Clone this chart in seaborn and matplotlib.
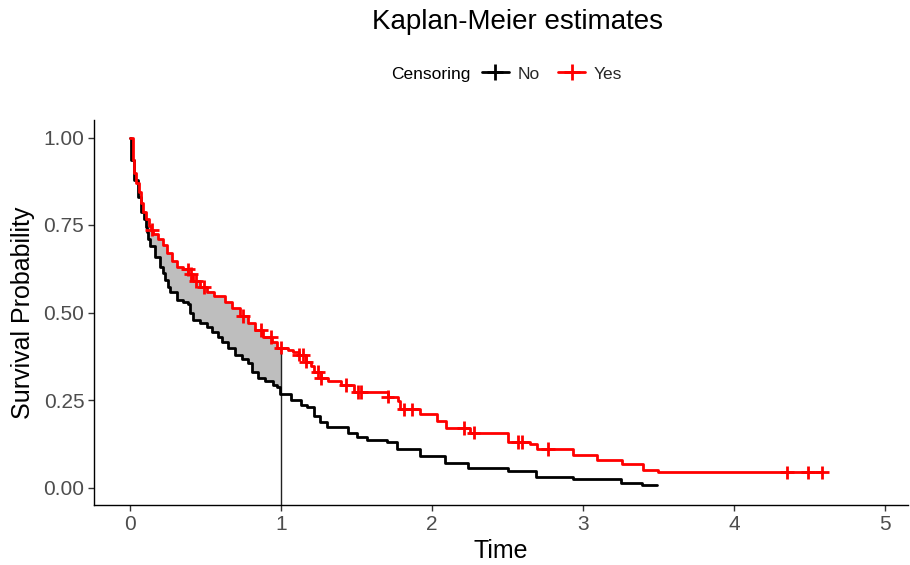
import numpy as np
import pandas as pd
import matplotlib
matplotlib.use("Agg")
import matplotlib.pyplot as plt
from matplotlib.lines import Line2D
import seaborn as sns

# ---- data ----
no_time = [0.0, 0.01, 0.026, 0.053, 0.073, 0.09, 0.106, 0.113, 0.119, 0.132, 0.166, 0.199,
           0.219, 0.232, 0.252, 0.265, 0.311, 0.351, 0.384, 0.397, 0.417, 0.464, 0.51,
           0.543, 0.583, 0.609, 0.649, 0.695, 0.742, 0.781, 0.808, 0.848, 0.894, 0.947,
           0.974, 0.993, 1.063, 1.129, 1.175, 1.215, 1.26, 1.307, 1.44, 1.505, 1.57, 1.70,
           1.77, 1.92, 2.086, 2.238, 2.50, 2.69, 2.93, 3.25, 3.39, 3.49]
no_surv = [1.0, 0.937, 0.88, 0.831, 0.786, 0.766, 0.745, 0.729, 0.709, 0.689, 0.66, 0.631,
           0.614, 0.594, 0.574, 0.56, 0.537, 0.531, 0.523, 0.50, 0.48, 0.471, 0.46,
           0.443, 0.431, 0.417, 0.40, 0.38, 0.366, 0.357, 0.331, 0.314, 0.303, 0.294,
           0.286, 0.266, 0.251, 0.237, 0.229, 0.203, 0.186, 0.174, 0.157, 0.143, 0.137, 0.131,
           0.109, 0.089, 0.071, 0.057, 0.046, 0.031, 0.023, 0.014, 0.006, 0.006]

yes_time = [0.0, 0.02, 0.026, 0.04, 0.06, 0.073, 0.086, 0.106, 0.126, 0.14, 0.152, 0.185,
            0.219, 0.245, 0.278, 0.311, 0.351, 0.384, 0.417, 0.464, 0.51, 0.555, 0.629,
            0.675, 0.728, 0.781, 0.828, 0.881, 0.94, 0.974, 1.046, 1.079, 1.117, 1.163,
            1.196, 1.216, 1.262, 1.309, 1.395, 1.48, 1.705, 1.771, 1.79, 1.923, 2.03, 2.09,
            2.254, 2.505, 2.65, 2.697, 2.935, 3.093, 3.258, 3.397, 3.496, 4.581]
yes_surv = [1.0, 0.937, 0.90, 0.871, 0.843, 0.814, 0.786, 0.766, 0.746, 0.737, 0.723, 0.709,
            0.694, 0.671, 0.646, 0.631, 0.623, 0.609, 0.589, 0.574, 0.56, 0.546, 0.531,
            0.514, 0.489, 0.471, 0.451, 0.431, 0.417, 0.40, 0.394, 0.386, 0.38, 0.36,
            0.346, 0.329, 0.314, 0.303, 0.294, 0.274, 0.26, 0.246, 0.223, 0.209, 0.19, 0.171,
            0.157, 0.131, 0.123, 0.109, 0.094, 0.08, 0.066, 0.051, 0.043, 0.043]

yes_censor = [0.145, 0.383, 0.403, 0.436, 0.489, 0.747, 0.866, 0.932, 1.0, 1.117, 1.143,
              1.163, 1.242, 1.262, 1.427, 1.507, 1.527, 1.705, 1.811, 1.870, 2.208, 2.274,
              2.571, 2.598, 2.77, 4.349, 4.488, 4.581]

groups = ["No", "Yes"]
colors = {"No": "black", "Yes": "red"}
x_ticks = [0, 1, 2, 3, 4, 5]
y_ticks = [0.00, 0.25, 0.50, 0.75, 1.00]
y_ticklabels = ["0.00", "0.25", "0.50", "0.75", "1.00"]
cut_time = 1.0


def step_eval(times, surv, q):
    times = np.asarray(times)
    surv = np.asarray(surv)
    idx = np.searchsorted(times, q, side="right") - 1
    idx = np.clip(idx, 0, len(surv) - 1)
    return surv[idx]


df = pd.concat([
    pd.DataFrame({"time": no_time, "surv": no_surv, "Censoring": "No"}),
    pd.DataFrame({"time": yes_time, "surv": yes_surv, "Censoring": "Yes"}),
])
cens = pd.DataFrame({"time": yes_censor,
                     "surv": step_eval(yes_time, yes_surv, np.array(yes_censor)),
                     "Censoring": "Yes"})

sns.set_theme(style="ticks")
plt.rcParams["font.family"] = ["Liberation Sans", "DejaVu Sans"]

fig = plt.figure(figsize=(9.10, 5.65), dpi=100)
ax = fig.add_axes([94 / 910, 1 - 505 / 565, 814 / 910, 385 / 565])

# shaded area between curves up to cut_time
grid = np.unique(np.concatenate([no_time, yes_time, [cut_time]]))
grid = grid[grid <= cut_time]
ax.fill_between(grid, step_eval(no_time, no_surv, grid), step_eval(yes_time, yes_surv, grid),
                step="post", color="#BEBEBE", linewidth=0, zorder=1)

sns.lineplot(data=df, x="time", y="surv", hue="Censoring", palette=colors,
             estimator=None, sort=False, drawstyle="steps-post", linewidth=2.0,
             legend=False, ax=ax, zorder=3)
sns.scatterplot(data=cens, x="time", y="surv", hue="Censoring", palette=colors,
                marker="+", s=100, linewidth=2.0, legend=False, ax=ax, zorder=4)

ax.vlines(cut_time, -0.05, step_eval(yes_time, yes_surv, cut_time), color="#222222",
          linewidth=1.0, zorder=2)

ax.set_xlim(-0.238, 5.15)
ax.set_ylim(-0.05, 1.05)
ax.set_xticks(x_ticks)
ax.set_xticklabels([str(t) for t in x_ticks])
ax.set_yticks(y_ticks)
ax.set_yticklabels(y_ticklabels)
ax.tick_params(axis="both", labelsize=15, colors="#333333", length=4, width=1,
               labelcolor="#4D4D4D", pad=3)
for s in ["top", "right"]:
    ax.spines[s].set_visible(False)
for s in ["left", "bottom"]:
    ax.spines[s].set_color("black")
    ax.spines[s].set_linewidth(1.0)
ax.set_xlabel("Time", fontsize=18, color="black", labelpad=4)
ax.set_ylabel("Survival Probability", fontsize=18, color="black", labelpad=6)

fig.text(518 / 910, 1 - 22 / 565, "Kaplan-Meier estimates", ha="center", va="center",
         fontsize=20, color="black")

# legend
fig.text(431 / 910, 1 - 74 / 565, "Censoring", ha="center", va="center", fontsize=12.5,
         color="black")
handles = [Line2D([0], [0], color=colors[g], lw=2, marker="+", markersize=11,
                  markeredgewidth=2) for g in groups]
fig.legend(handles, groups, loc="center", bbox_to_anchor=(552 / 910, 1 - 74 / 565),
           ncol=2, frameon=False, fontsize=12.5, handlelength=1.6, handletextpad=0.5,
           columnspacing=1.0)

fig.savefig("out.png", dpi=100)
